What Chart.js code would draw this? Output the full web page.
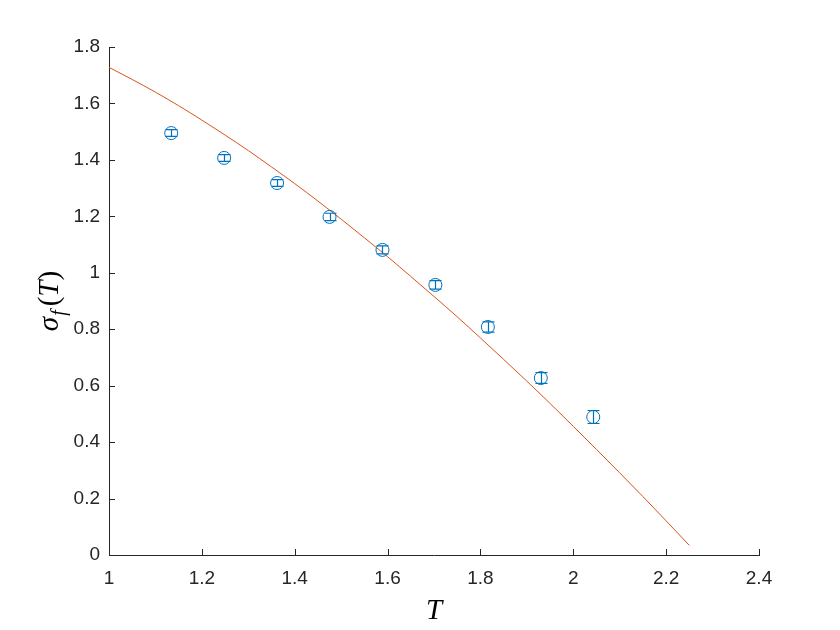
<!DOCTYPE html>
<html>
<head>
<meta charset="utf-8">
<script src="https://cdn.jsdelivr.net/npm/chart.js@4.4.1/dist/chart.umd.min.js"></script>
<style>
  html, body { margin: 0; padding: 0; background: #fff; }
  canvas { display: block; }
</style>
</head>
<body>
<canvas id="sigmaChart" width="840" height="630"></canvas>
<script>
// measured points (T, sigma_f, error)
const pointT = [1.134, 1.248, 1.362, 1.475, 1.589, 1.703, 1.816, 1.930, 2.043];
const pointSigma = [1.495, 1.407, 1.318, 1.198, 1.081, 0.957, 0.808, 0.627, 0.489];
const pointErr = [0.012, 0.012, 0.012, 0.013, 0.014, 0.015, 0.018, 0.019, 0.023];

// theory curve
const curveT = [1.00, 1.05, 1.10, 1.15, 1.20, 1.25, 1.30, 1.35, 1.40, 1.45, 1.50, 1.55, 1.60,
                1.65, 1.70, 1.75, 1.80, 1.85, 1.90, 1.95, 2.00, 2.05, 2.10, 2.15, 2.20, 2.25];
const curveSigma = [1.728, 1.685, 1.640, 1.592, 1.541, 1.488, 1.433, 1.375, 1.316, 1.254, 1.190,
                    1.124, 1.057, 0.987, 0.916, 0.844, 0.769, 0.693, 0.616, 0.537, 0.456, 0.374,
                    0.291, 0.207, 0.121, 0.034];

// tick labels
const xTicks = ["1", "1.2", "1.4", "1.6", "1.8", "2", "2.2", "2.4"];
const yTicks = ["0", "0.2", "0.4", "0.6", "0.8", "1", "1.2", "1.4", "1.6", "1.8"];

const axisColor = "#262626";
const blue = "#0072BD";
const orange = "#D95319";

// error bars + inward ticks + axis titles
const extras = {
    id: "extras",
    afterDatasetsDraw(chart) {
        const ctx = chart.ctx;
        const xs = chart.scales.x, ys = chart.scales.y;
        ctx.save();
        ctx.strokeStyle = blue;
        ctx.lineWidth = 1.2;
        pointT.forEach((t, i) => {
            const px = Math.round(xs.getPixelForValue(t)) + 0.5;
            const top = ys.getPixelForValue(pointSigma[i] + pointErr[i]);
            const bot = ys.getPixelForValue(pointSigma[i] - pointErr[i]);
            ctx.beginPath();
            ctx.moveTo(px, top); ctx.lineTo(px, bot);
            ctx.moveTo(px - 6, top); ctx.lineTo(px + 6, top);
            ctx.moveTo(px - 6, bot); ctx.lineTo(px + 6, bot);
            ctx.stroke();
        });
        ctx.restore();
    },
    afterDraw(chart) {
        const ctx = chart.ctx;
        const xs = chart.scales.x, ys = chart.scales.y;
        const area = chart.chartArea;
        ctx.save();
        ctx.strokeStyle = axisColor;
        ctx.lineWidth = 1;
        ctx.beginPath();
        xs.ticks.forEach(t => {
            const px = Math.round(xs.getPixelForValue(t.value)) + 0.5;
            ctx.moveTo(px, area.bottom); ctx.lineTo(px, area.bottom - 6);
        });
        ys.ticks.forEach(t => {
            const py = Math.round(ys.getPixelForValue(t.value)) + 0.5;
            ctx.moveTo(area.left, py); ctx.lineTo(area.left + 6, py);
        });
        ctx.stroke();

        // x title
        ctx.fillStyle = "#000";
        ctx.font = "italic 29px 'Liberation Serif'";
        ctx.textAlign = "center";
        ctx.textBaseline = "alphabetic";
        ctx.fillText("T", (area.left + area.right) / 2, 619);

        // y title, rotated, with subscript f
        ctx.translate(58, (area.top + area.bottom) / 2);
        ctx.rotate(-Math.PI / 2);
        ctx.textAlign = "left";
        const s1 = "σ", s2 = "f";
        ctx.font = "italic 29px 'Liberation Serif'";
        const w1 = ctx.measureText(s1).width;
        const wT = ctx.measureText("T").width;
        ctx.font = "italic 20px 'Liberation Serif'";
        const w2 = ctx.measureText(s2).width;
        ctx.font = "29px 'Liberation Serif'";
        const w3 = ctx.measureText("()").width;
        const total = w1 + 1 + w2 + 4 + w3 + wT;
        let x0 = -total / 2;
        ctx.font = "italic 29px 'Liberation Serif'";
        ctx.fillText(s1, x0, 0); x0 += w1 + 1;
        ctx.font = "italic 20px 'Liberation Serif'";
        ctx.fillText(s2, x0, 7); x0 += w2 + 4;
        ctx.font = "29px 'Liberation Serif'";
        ctx.fillText("(", x0, 0); x0 += ctx.measureText("(").width;
        ctx.font = "italic 29px 'Liberation Serif'";
        ctx.fillText("T", x0, 0); x0 += wT;
        ctx.font = "29px 'Liberation Serif'";
        ctx.fillText(")", x0, 0);
        ctx.restore();
    }
};

const ctx = document.getElementById("sigmaChart").getContext("2d");
new Chart(ctx, {
    type: "scatter",
    data: {
        datasets: [
            {
                label: "data",
                data: pointT.map((t, i) => ({ x: t, y: pointSigma[i] })),
                borderColor: blue,
                backgroundColor: "rgba(0,0,0,0)",
                borderWidth: 1,
                pointRadius: 6.5,
                pointStyle: "circle",
                order: 1
            },
            {
                type: "line",
                label: "theory",
                data: curveT.map((t, i) => ({ x: t, y: curveSigma[i] })),
                borderColor: orange,
                borderWidth: 1,
                pointRadius: 0,
                fill: false,
                cubicInterpolationMode: "monotone",
                order: 2
            }
        ]
    },
    options: {
        responsive: false,
        animation: false,
        layout: { padding: { top: 47, right: 81, left: 0, bottom: 0 } },
        plugins: { legend: { display: false }, tooltip: { enabled: false } },
        scales: {
            x: {
                type: "linear",
                min: 1, max: 2.4,
                afterFit: s => { s.height = 75; },
                grid: { display: true, drawOnChartArea: false, drawTicks: false },
                border: { display: true, color: axisColor, width: 1 },
                ticks: {
                    stepSize: 0.2,
                    padding: 12,
                    color: axisColor,
                    font: { family: "'Liberation Sans'", size: 19 },
                    callback: (v, i) => xTicks[i]
                }
            },
            y: {
                type: "linear",
                min: 0, max: 1.8,
                afterFit: s => { s.width = 109; },
                grid: { display: true, drawOnChartArea: false, drawTicks: false },
                border: { display: true, color: axisColor, width: 1 },
                ticks: {
                    stepSize: 0.2,
                    padding: 9,
                    color: axisColor,
                    font: { family: "'Liberation Sans'", size: 19 },
                    callback: (v, i) => yTicks[i]
                }
            }
        }
    },
    plugins: [extras]
});
</script>
</body>
</html>
